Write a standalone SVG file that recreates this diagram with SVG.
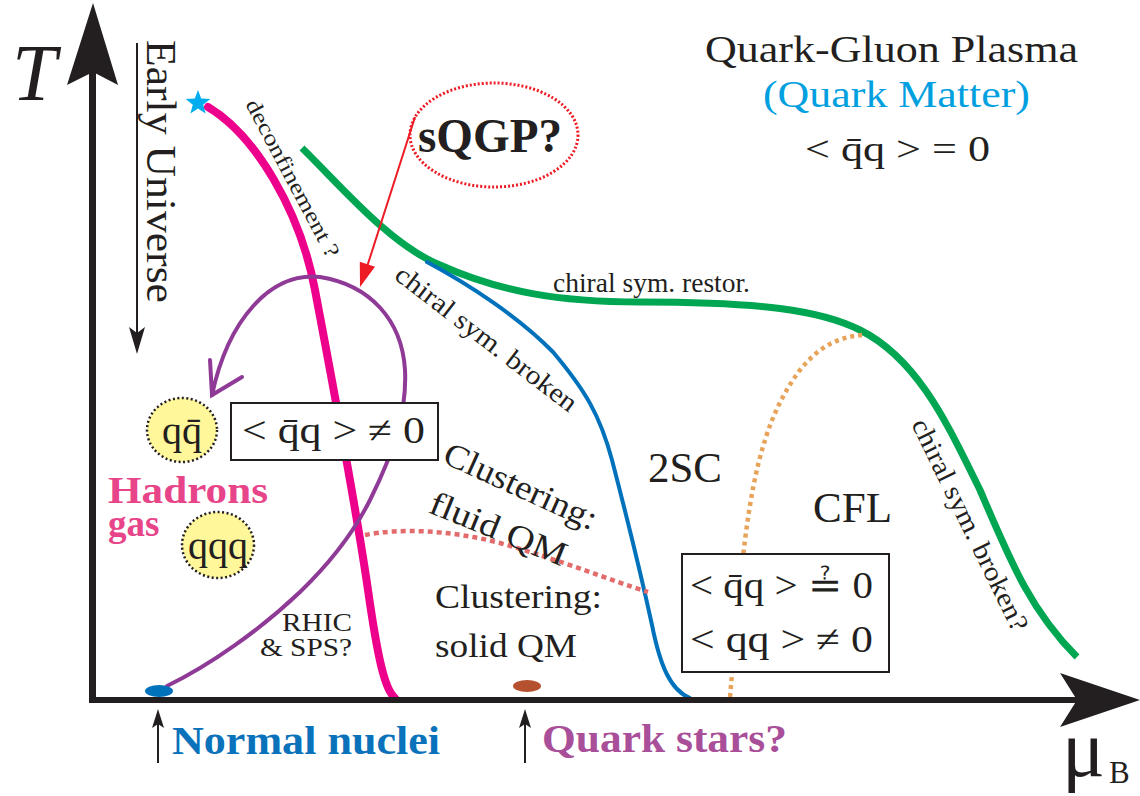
<svg xmlns="http://www.w3.org/2000/svg" width="1140" height="796" viewBox="0 0 1140 796">
<style>
text{font-family:"Liberation Serif","Times New Roman",serif;fill:#231f20}
.b{font-weight:bold}
.curve{fill:none}
.ax{stroke:#231f20;fill:none}
.box{fill:#fff;stroke:#231f20;stroke-width:2}
.bub{fill:#fff799;stroke:#231f20;stroke-width:2.5;stroke-dasharray:2 2.5}
</style>
<rect width="1140" height="796" fill="#fff"/>
<g id="connectors">
  <path id="confinement-line" class="curve" d="M208,107 C255,135 300,210 315,290 C330,370 355,500 368,590 C378,660 385,690 395,698" stroke="#ec008c" stroke-width="8" stroke-linecap="round"/>
  <path id="chiral-restor-line" class="curve" d="M302,148 C340,185 390,245 440,265 C500,292 560,302 640,302 C760,302 820,310 860,330 C920,360 950,430 980,490 C1010,560 1030,610 1077,657" stroke="#00a651" stroke-width="7"/>
  <path id="chiral-broken-line" class="curve" d="M427,262 C470,285 520,318 553,352 C585,390 600,415 612,460 C625,510 640,570 652,625 C660,665 670,690 690,698" stroke="#0072bc" stroke-width="4" stroke-linecap="round"/>
  <path id="cfl-line" class="curve" d="M730,697 C735,640 740,580 745,540 C755,460 770,410 800,370 C820,345 840,337 862,335" stroke="#e8a35a" stroke-width="4.5" stroke-dasharray="4 4"/>
  <path id="fluid-line" class="curve" d="M365,535 C400,528 450,530 500,543 C560,560 610,580 648,592" stroke="#e36b6b" stroke-width="4.5" stroke-dasharray="5 4"/>
  <path id="rhic-path" class="curve" d="M167,686 C210,665 260,630 300,592 C330,563 355,530 370,500 C395,450 407,410 405,370 C402,320 370,285 320,277 C270,272 228,320 212,395" stroke="#8f3a96" stroke-width="4" stroke-linecap="round"/>
  <polyline points="210,360 212,395 242,377" fill="none" stroke="#8f3a96" stroke-width="4" stroke-linecap="round"/>
  <line x1="415" y1="117" x2="366" y2="270" stroke="#ed1c24" stroke-width="2"/>
  <polygon points="360,287 375,266.7 359.8,261.7" fill="#ed1c24"/>
</g>
<g id="axes">
  <line class="ax" x1="92.5" y1="703" x2="92.5" y2="70" stroke-width="7"/>
  <polygon points="93,3 118,85 93,72 67,85" fill="#231f20"/>
  <line class="ax" x1="89" y1="700" x2="1080" y2="700" stroke-width="6"/>
  <polygon points="1140,700 1060,673 1077,700 1060,727" fill="#231f20"/>
  <text x="12" y="100" font-size="80" font-style="italic">T</text>
  <text x="1062" y="776" font-size="80">μ</text>
  <text x="1109" y="783" font-size="31">B</text>
</g>
<g id="early-universe">
  <line x1="137" y1="43" x2="137" y2="335" stroke="#231f20" stroke-width="2"/>
  <polygon points="137,354 129,327 137,333 145,327" fill="#231f20"/>
  <text transform="translate(147,40) rotate(90)" font-size="43" textLength="263" lengthAdjust="spacingAndGlyphs">Early Universe</text>
</g>
<g id="star">
  <polygon points="198,90 201.2,98.5 210.4,99 203.2,104.7 205.6,113.5 198,108.5 190.4,113.5 192.8,104.7 185.6,99 194.8,98.5" fill="#00aeef"/>
</g>
<g id="deconfinement-label">
  <text transform="translate(245,104) rotate(62)" font-size="22" textLength="176" lengthAdjust="spacingAndGlyphs">deconfinement ?</text>
</g>
<g id="qgp">
  <text x="705" y="62" font-size="37" textLength="373" lengthAdjust="spacingAndGlyphs">Quark-Gluon Plasma</text>
  <text x="763" y="107" font-size="37" textLength="267" lengthAdjust="spacingAndGlyphs" style="fill:#00a0e0">(Quark Matter)</text>
  <text x="805" y="161" font-size="36" textLength="185" lengthAdjust="spacingAndGlyphs">&lt; q̄q &gt; = 0</text>
</g>
<g id="sqgp">
  <ellipse cx="494" cy="135" rx="84" ry="52" fill="none" stroke="#ed1c24" stroke-width="3" stroke-dasharray="2 2"/>
  <text x="418" y="152" class="b" font-size="48" textLength="144" lengthAdjust="spacingAndGlyphs">sQGP?</text>
</g>
<g id="chiral-labels">
  <text x="553" y="292" font-size="27" textLength="197" lengthAdjust="spacingAndGlyphs">chiral sym. restor.</text>
  <text transform="translate(393,278) rotate(37.5)" font-size="27" textLength="222" lengthAdjust="spacingAndGlyphs">chiral sym. broken</text>
  <text transform="translate(911,424) rotate(64)" font-size="27" textLength="233" lengthAdjust="spacingAndGlyphs">chiral sym. broken?</text>
</g>
<g id="hadron-box">
  <rect class="box" x="231" y="403" width="207" height="57"/>
  <text x="242" y="443" font-size="38" textLength="183" lengthAdjust="spacingAndGlyphs">&lt; q̄q &gt; ≠ 0</text>
</g>
<g id="meson">
  <ellipse class="bub" cx="182" cy="430" rx="35" ry="32"/>
  <text x="182" y="444" font-size="40" text-anchor="middle">qq̄</text>
</g>
<g id="baryon">
  <ellipse class="bub" cx="218" cy="545" rx="36" ry="33"/>
  <text x="218" y="559" font-size="40" text-anchor="middle">qqq</text>
</g>
<g id="hadrons-label">
  <text x="108" y="503" class="b" font-size="37" textLength="160" lengthAdjust="spacingAndGlyphs" style="fill:#e8448a">Hadrons</text>
  <text x="108" y="536" class="b" font-size="37" style="fill:#e8448a">gas</text>
</g>
<g id="clustering-fluid">
  <text transform="translate(441,462) rotate(24.5)" font-size="34" textLength="165" lengthAdjust="spacingAndGlyphs">Clustering:</text>
  <text transform="translate(427,512) rotate(22)" font-size="34" textLength="145" lengthAdjust="spacingAndGlyphs">fluid QM</text>
</g>
<g id="clustering-solid">
  <text x="435" y="608" font-size="34" textLength="167" lengthAdjust="spacingAndGlyphs">Clustering:</text>
  <text x="435" y="657" font-size="34" textLength="142" lengthAdjust="spacingAndGlyphs">solid QM</text>
</g>
<g id="phase-2sc"><text x="648" y="482" font-size="42" textLength="74" lengthAdjust="spacingAndGlyphs">2SC</text></g>
<g id="phase-cfl"><text x="813" y="522" font-size="42" textLength="79" lengthAdjust="spacingAndGlyphs">CFL</text></g>
<g id="cfl-box">
  <rect class="box" x="682" y="554" width="207" height="118"/>
  <text x="690" y="598" font-size="38" textLength="183" lengthAdjust="spacingAndGlyphs">&lt; q̄q &gt; ≟ 0</text>
  <text x="690" y="652" font-size="38" textLength="183" lengthAdjust="spacingAndGlyphs">&lt; qq &gt; ≠ 0</text>
</g>
<g id="rhic-label">
  <text x="352" y="631" font-size="26" text-anchor="end" textLength="70" lengthAdjust="spacingAndGlyphs">RHIC</text>
  <text x="352" y="656" font-size="26" text-anchor="end" textLength="92" lengthAdjust="spacingAndGlyphs">&amp; SPS?</text>
</g>
<g id="normal-nuclei">
  <ellipse cx="159" cy="691" rx="14" ry="6" fill="#0072bc"/>
  <line x1="158" y1="763" x2="158" y2="722" stroke="#231f20" stroke-width="2"/>
  <polygon points="158,709 152,728 158,724 164,728" fill="#231f20"/>
  <text x="172" y="754" class="b" font-size="40" textLength="268" lengthAdjust="spacingAndGlyphs" style="fill:#0a72ba">Normal nuclei</text>
</g>
<g id="quark-stars">
  <ellipse cx="527" cy="686" rx="14" ry="6" fill="#b5512f"/>
  <line x1="525" y1="763" x2="525" y2="722" stroke="#231f20" stroke-width="2"/>
  <polygon points="525,709 519,728 525,724 531,728" fill="#231f20"/>
  <text x="542" y="752" class="b" font-size="40" textLength="245" lengthAdjust="spacingAndGlyphs" style="fill:#a94e99">Quark stars?</text>
</g>
</svg>
